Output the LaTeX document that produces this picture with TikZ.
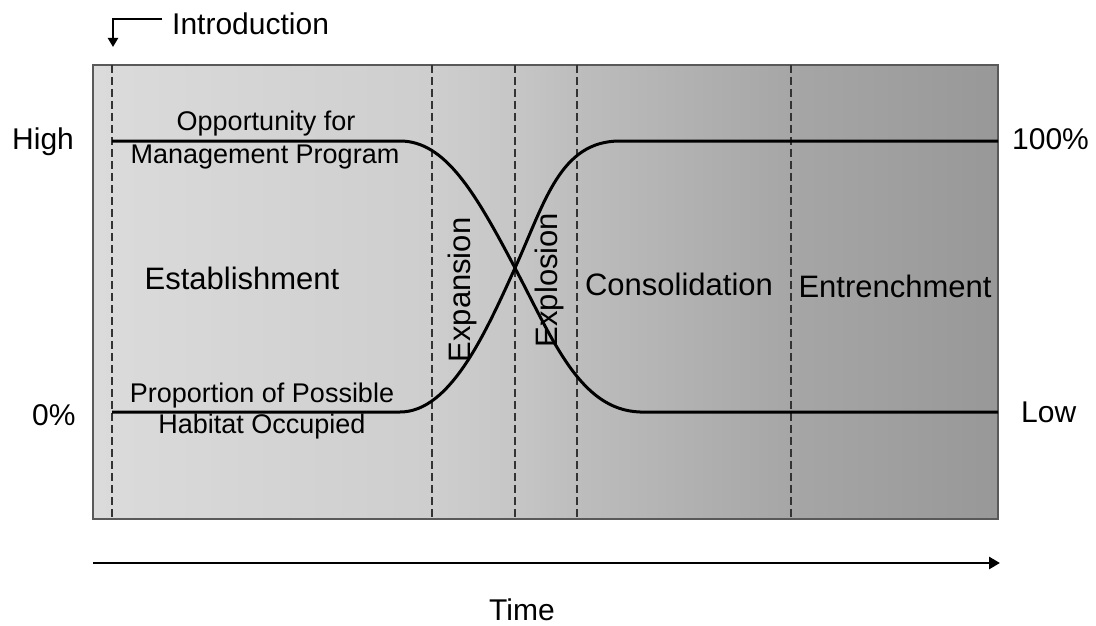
\documentclass[tikz,border=0pt]{standalone}
\usepackage{fontspec}
\setmainfont{Liberation Sans}
\usetikzlibrary{arrows.meta}
\definecolor{shA}{HTML}{DBDBDB}
\definecolor{shB}{HTML}{CECECE}
\definecolor{shC}{HTML}{C6C6C6}
\definecolor{shD}{HTML}{BDBDBD}
\definecolor{shE}{HTML}{A6A6A6}
\definecolor{shF}{HTML}{989898}
\begin{document}
\begin{tikzpicture}[x=1pt,y=-1pt,
  lbl/.style={inner sep=0pt, font=\fontsize{30}{36}\selectfont},
  phaselbl/.style={inner sep=0pt, font=\fontsize{31}{37}\selectfont},
  smalllbl/.style={inner sep=0pt, font=\fontsize{27}{32}\selectfont},
  phase/.style={draw=black!80, line width=1.8pt, dash pattern=on 8pt off 4pt},
  trend/.style={line width=3pt, draw=black},
  frame/.style={draw=black!65, line width=1.8pt},
]
\useasboundingbox (0,0) rectangle (1096,626);

% background bands, each with its own grey ramp
\shade[left color=shA, right color=shB] (93,65) rectangle (432,519);
\shade[left color=shB, right color=shC] (432,65) rectangle (515,519);
\shade[left color=shC, right color=shD] (515,65) rectangle (577,519);
\shade[left color=shD, right color=shE] (577,65) rectangle (791,519);
\shade[left color=shE, right color=shF] (791,65) rectangle (998,519);
\draw[frame] (93,65) rectangle (998,519);

% phase boundaries
\foreach \x in {112,432,515,577,791}
  \draw[phase] (\x,65) -- (\x,519);

% opportunity for management (falls)
\draw[trend] (112,141) -- (400,141)
  .. controls (445,141) and (475,192) .. (515,268)
  .. controls (553,340) and (580,410) .. (640,412) -- (998,412);
% proportion of habitat occupied (rises)
\draw[trend] (112,412) -- (400,412)
  .. controls (450,412) and (485,334) .. (515,268)
  .. controls (545,202) and (560,141) .. (620,141) -- (998,141);

% curve labels
\node[smalllbl, anchor=base] (opp1) at (266,130) {Opportunity for};
\node[smalllbl, anchor=base] (opp2) at (265,163) {Management Program};
\node[smalllbl, anchor=base] (prop1) at (262,402) {Proportion of Possible};
\node[smalllbl, anchor=base] (prop2) at (262,433) {Habitat Occupied};

% phase names
\node[phaselbl, anchor=base] (est) at (242,289) {Establishment};
\node[phaselbl, anchor=base, rotate=90] (expa) at (470,290) {Expansion};
\node[phaselbl, anchor=base, rotate=90] (expl) at (557,280) {Explosion};
\node[phaselbl, anchor=base] (cons) at (679,295) {Consolidation};
\node[phaselbl, anchor=base] (ent) at (895,297) {Entrenchment};

% axis values
\node[lbl, anchor=base west] (high) at (12,149) {High};
\node[lbl, anchor=base west] (zero) at (32,425) {0\%};
\node[lbl, anchor=base west] (full) at (1012,149) {100\%};
\node[lbl, anchor=base west] (low) at (1021,422) {Low};

% introduction marker
\node[lbl, anchor=base west] (intro) at (172,35) {Introduction};
\coordinate (introstart) at (162,19);
\coordinate (introend) at (113,47);
\draw[line width=2.2pt, -{Triangle[length=9pt,width=10pt]}] (introstart) -| (introend);

% time axis
\coordinate (tstart) at (93,563);
\coordinate (tend) at (1000,563);
\draw[line width=2.8pt, -{Triangle[length=11pt,width=12pt]}] (tstart) -- (tend);
\node[lbl, anchor=base] (time) at (522,620) {Time};
\end{tikzpicture}
\end{document}
